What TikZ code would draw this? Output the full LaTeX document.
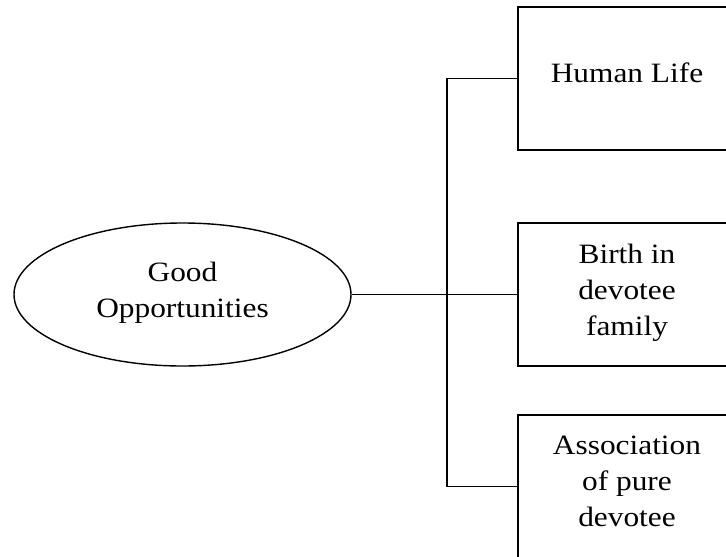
\documentclass[tikz,border=0pt]{standalone}
\usepackage{fontspec}
\setmainfont{Liberation Serif}[FakeStretch=1.12]
\usetikzlibrary{shapes.geometric}

\tikzset{
  box/.style={draw=black, line width=1.9pt, rectangle, inner sep=0pt,
              minimum width=218pt, minimum height=143pt},
  oval/.style={draw=black, line width=1.4pt, ellipse, inner sep=0pt,
               minimum width=337pt, minimum height=143pt},
  txt/.style={inner sep=0pt, align=center, anchor=north,
              font=\fontsize{28pt}{36pt}\selectfont},
  wire/.style={draw=black, line width=1.9pt}
}

\begin{document}
\begin{tikzpicture}[x=1pt, y=-1pt]
  \useasboundingbox (0,0) rectangle (726,557);
  \clip (0,0) rectangle (726,557);
  \fill[white] (0,0) rectangle (726,557);

  % central idea
  \node[oval] (root) at (182.5,294.5) {};
  \node[txt] (rootText) at (182.5,262) {Good\\Opportunities};

  % the three branches
  \node[box] (b1) at (627,78.5) {};
  \node[txt] (b1Text) at (627,63) {Human Life};

  \node[box] (b2) at (627,294.5) {};
  \node[txt] (b2Text) at (627,244) {Birth in\\devotee\\family};

  \node[box] (b3) at (627,486.5) {};
  \node[txt] (b3Text) at (627,436) {Association\\of pure\\devotee};

  % bracket joining the branches
  \coordinate (trunkTop) at (447,78.5);
  \coordinate (trunkBot) at (447,486.5);
  \draw[wire] (root.east) -- (b2.west);
  \draw[wire] (b1.west) -- (trunkTop) -- (trunkBot) -- (b3.west);
\end{tikzpicture}
\end{document}
